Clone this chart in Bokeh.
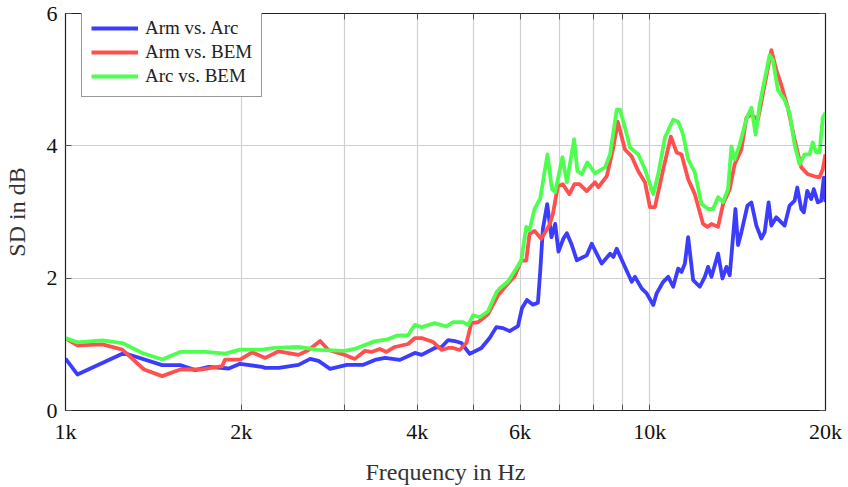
from bokeh.plotting import figure
from bokeh.models import FixedTicker, Range1d, LinearAxis, LogAxis, Legend, LegendItem
from bokeh.embed import file_html
from bokeh.resources import INLINE

# ---- data ----
freq_arm_arc = [1000, 1048, 1259, 1464, 1572, 1667, 1759, 1903, 1990, 2169, 2198, 2317, 2506, 2623, 2711, 2838,
                3030, 3235, 3386, 3522, 3736, 3964, 4070, 4288, 4403, 4520, 4638, 4762, 4920, 5152, 5322, 5464,
                5610, 5758, 5951, 6045, 6165, 6312, 6438, 6496, 6565, 6677, 6791, 6891, 6981, 7119, 7215, 7358,
                7505, 7804, 7959, 8278, 8555, 8667, 8783, 9074, 9317, 9439, 9690, 9882, 10143, 10279, 10549, 10759,
                10972, 11190, 11340, 11489, 11638, 11870, 12186, 12428, 12591, 12760, 13095, 13324, 13535, 13712,
                14023, 14168, 14358, 14701, 14933, 15230, 15533, 15735, 15983, 16156, 16476, 16691, 17023, 17360,
                17705, 17894, 18177, 18364, 18612, 18906, 19100, 19402, 19664, 19866, 20000]
sd_arm_arc = [0.785, 0.545, 0.87, 0.685, 0.685, 0.61, 0.66, 0.635, 0.705, 0.66, 0.645, 0.645, 0.69, 0.78, 0.75, 0.63,
              0.69, 0.69, 0.765, 0.795, 0.765, 0.87, 0.84, 0.945, 0.96, 1.065, 1.05, 1.02, 0.855, 0.945, 1.095, 1.26,
              1.245, 1.2, 1.275, 1.545, 1.67, 1.6, 1.63, 2.1, 2.745, 3.12, 2.62, 2.82, 2.4, 2.6, 2.68, 2.5,
              2.27, 2.345, 2.52, 2.22, 2.37, 2.32, 2.445, 2.17, 1.945, 2.02, 1.845, 1.77, 1.595, 1.77, 1.945, 2.02,
              1.87, 2.145, 2.095, 2.22, 2.62, 1.97, 1.87, 2.02, 2.17, 2.02, 2.37, 1.995, 2.17, 2.045,
              3.045, 2.5, 2.695, 3.095, 3.145, 2.795, 2.6, 2.695, 3.145, 2.795, 2.92, 2.87, 2.795, 3.095,
              3.17, 3.37, 3.045, 2.995, 3.32, 3.195, 3.345, 3.145, 3.17, 3.52, 3.15]

freq_arm_bem = [1000, 1048, 1157, 1251, 1363, 1464, 1572, 1713, 1854, 1876, 1990, 2086, 2198, 2317, 2506, 2607,
                2728, 2820, 3009, 3129, 3254, 3341, 3452, 3544, 3662, 3860, 3964, 4070, 4261, 4403, 4520, 4610,
                4730, 4857, 4953, 5085, 5289, 5501, 5722, 5871, 6028, 6148, 6229, 6352, 6522, 6738, 6829, 6964,
                7102, 7289, 7434, 7581, 7804, 8063, 8168, 8445, 8667, 8817, 9074, 9317, 9562, 9817, 10012, 10210,
                10549, 10874, 11121, 11340, 11638, 11949, 12345, 12561, 12760, 13095, 13356, 13712, 13978, 14358,
                14645, 14933, 15325, 15735, 16156, 16476, 16802, 17243, 17705, 18177, 18654, 19151, 19533, 19787,
                20000]
sd_arm_bem = [1.09, 0.985, 1.0, 0.92, 0.62, 0.52, 0.62, 0.62, 0.67, 0.77, 0.77, 0.88, 0.795, 0.895, 0.84, 0.915,
              1.05, 0.915, 0.84, 0.78, 0.9, 0.885, 0.93, 0.885, 0.96, 1.005, 1.095, 1.095, 1.035, 0.915, 0.945, 0.945,
              0.915, 1.02, 1.32, 1.335, 1.455, 1.74, 1.92, 2.025, 2.265, 2.265, 2.67, 2.715, 2.595, 2.805, 2.97, 3.39,
              3.42, 3.27, 3.42, 3.42, 3.315, 3.45, 3.375, 3.54, 3.975, 4.365, 3.945, 3.84, 3.615, 3.45, 3.075, 3.075,
              3.645, 4.14, 3.9, 3.87, 3.495, 3.27, 2.82, 2.775, 2.82, 2.775, 3.12, 3.345, 3.72, 3.945,
              4.425, 4.47, 4.395, 4.92, 5.445, 5.145, 4.92, 4.575, 4.095, 3.675, 3.57, 3.54, 3.525, 3.645,
              3.87]

freq_arc_bem = [1000, 1048, 1157, 1251, 1354, 1464, 1572, 1734, 1876, 1990, 2169, 2283, 2506, 2711, 3006, 3125,
                3381, 3569, 3687, 3860, 3964, 4070, 4288, 4487, 4610, 4794, 4889, 4986, 5117, 5289, 5464, 5536,
                5722, 5911, 6028, 6148, 6229, 6352, 6496, 6684, 6802, 6891, 7091, 7215, 7425, 7522, 7653, 7823,
                8063, 8388, 8555, 8783, 8898, 9074, 9255, 9562, 9817, 10143, 10344, 10620, 10972, 11190, 11412,
                11638, 11949, 12268, 12591, 12840, 13095, 13356, 13620, 13803, 13978, 14261, 14645, 14933, 15187,
                15428, 15735, 16046, 16256, 16579, 17021, 17359, 17705, 18055, 18413, 18779, 19025, 19281, 19533,
                19787, 20000]
sd_arc_bem = [1.095, 1.03, 1.06, 1.02, 0.87, 0.77, 0.885, 0.885, 0.86, 0.92, 0.92, 0.945, 0.96, 0.915, 0.9, 0.93,
              1.045, 1.08, 1.13, 1.14, 1.295, 1.26, 1.32, 1.27, 1.335, 1.335, 1.29, 1.44, 1.41, 1.5, 1.785, 1.845,
              1.95, 2.145, 2.265, 2.775, 2.73, 3.045, 3.2, 3.87, 3.35, 3.3, 3.83, 3.45, 4.1, 3.62, 3.57, 3.75,
              3.585, 3.675, 3.87, 4.545, 4.545, 4.275, 3.975, 3.87, 3.645, 3.27, 3.57, 4.125, 4.395, 4.365, 4.17,
              3.795, 3.6, 3.12, 3.045, 3.045, 3.225, 3.15, 3.345, 3.99, 3.795, 4.02, 4.41, 4.575, 4.17,
              4.62, 5.0, 5.37, 5.295, 4.845, 4.695, 4.5, 4.02, 3.72, 3.87, 3.87, 4.05, 3.9, 3.9,
              4.425, 4.5]

series_names = ["Arm vs. Arc", "Arm vs. BEM", "Arc vs. BEM"]
series_colors = ["#3c3cff", "#ff4f4f", "#4fff4f"]

x_labeled_ticks = [1000, 2000, 4000, 6000, 10000, 20000]
x_unlabeled_ticks = [3000, 5000, 7000, 8000, 9000]
x_all_ticks = sorted(x_labeled_ticks + x_unlabeled_ticks)
x_tick_labels = {1000: "1k", 2000: "2k", 4000: "4k", 6000: "6k", 10000: "10k", 20000: "20k"}
y_ticks = [0, 2, 4, 6]

FONT = "Liberation Serif"
TICK_COLOR = "#555555"
AXIS_COLOR = "#222222"

p = figure(width=848, height=487, x_axis_type="log", output_backend="svg", toolbar_location=None,
           x_range=Range1d(1000, 20000), y_range=Range1d(0, 6),
           min_border_left=63, min_border_right=23, min_border_top=13, min_border_bottom=74)
p.outline_line_color = AXIS_COLOR
p.outline_line_width = 1.2
p.background_fill_color = "white"
p.border_fill_color = "white"

# axes
xa = p.xaxis[0]
xa.ticker = FixedTicker(ticks=x_labeled_ticks, minor_ticks=x_unlabeled_ticks)
xa.major_label_overrides = dict(x_tick_labels)
ya = p.yaxis[0]
ya.ticker = FixedTicker(ticks=y_ticks, minor_ticks=[])
for ax in (xa, ya):
    ax.major_tick_in = 6
    ax.major_tick_out = 0
    ax.minor_tick_in = 6
    ax.minor_tick_out = 0
    ax.axis_line_color = AXIS_COLOR
    ax.major_tick_line_color = TICK_COLOR
    ax.minor_tick_line_color = TICK_COLOR
    ax.major_label_text_font = FONT
    ax.major_label_text_font_size = "22px"
    ax.major_label_text_color = "#111111"
    ax.axis_label_text_font = FONT
    ax.axis_label_text_font_size = "24px"
    ax.axis_label_text_font_style = "normal"
    ax.axis_label_text_color = "#333333"
xa.axis_label = "Frequency in Hz"
ya.axis_label = "SD in dB"
xa.major_label_standoff = 8
xa.axis_label_standoff = 12
ya.major_label_standoff = 8
ya.axis_label_standoff = 14

# mirrored ticks on top and right (minor ticks only -> no labels)
top = LogAxis(ticker=FixedTicker(ticks=[], minor_ticks=x_all_ticks),
              major_tick_in=0, major_tick_out=0, minor_tick_in=6, minor_tick_out=0,
              axis_line_color=AXIS_COLOR, minor_tick_line_color=TICK_COLOR)
right = LinearAxis(ticker=FixedTicker(ticks=[], minor_ticks=y_ticks),
                   major_tick_in=0, major_tick_out=0, minor_tick_in=6, minor_tick_out=0,
                   axis_line_color=AXIS_COLOR, minor_tick_line_color=TICK_COLOR)
p.add_layout(top, "above")
p.add_layout(right, "right")

# grid
p.xgrid.ticker = FixedTicker(ticks=x_all_ticks)
p.ygrid.ticker = FixedTicker(ticks=y_ticks)
for g in (p.xgrid[0], p.ygrid[0]):
    g.grid_line_color = "#d0d0d0"
    g.grid_line_width = 1.2

# lines
xs = [freq_arm_arc, freq_arm_bem, freq_arc_bem]
ys = [sd_arm_arc, sd_arm_bem, sd_arc_bem]
items = []
for name, color, fx, sy in zip(series_names, series_colors, xs, ys):
    r = p.line(fx, sy, line_color=color, line_width=3.8, line_join="round")
    items.append(LegendItem(label=name, renderers=[r]))

legend = Legend(items=items, location=(16, 313))
legend.label_text_font = FONT
legend.label_text_font_size = "19px"
legend.label_text_color = "#222222"
legend.glyph_width = 47
legend.glyph_height = 20
legend.label_height = 20
legend.label_standoff = 7
legend.spacing = 2
legend.padding = 9
legend.margin = 0
legend.border_line_color = "#333333"
legend.border_line_width = 1
legend.background_fill_alpha = 1.0
p.add_layout(legend, "center")

open("out.html", "w").write(file_html(p, INLINE))
